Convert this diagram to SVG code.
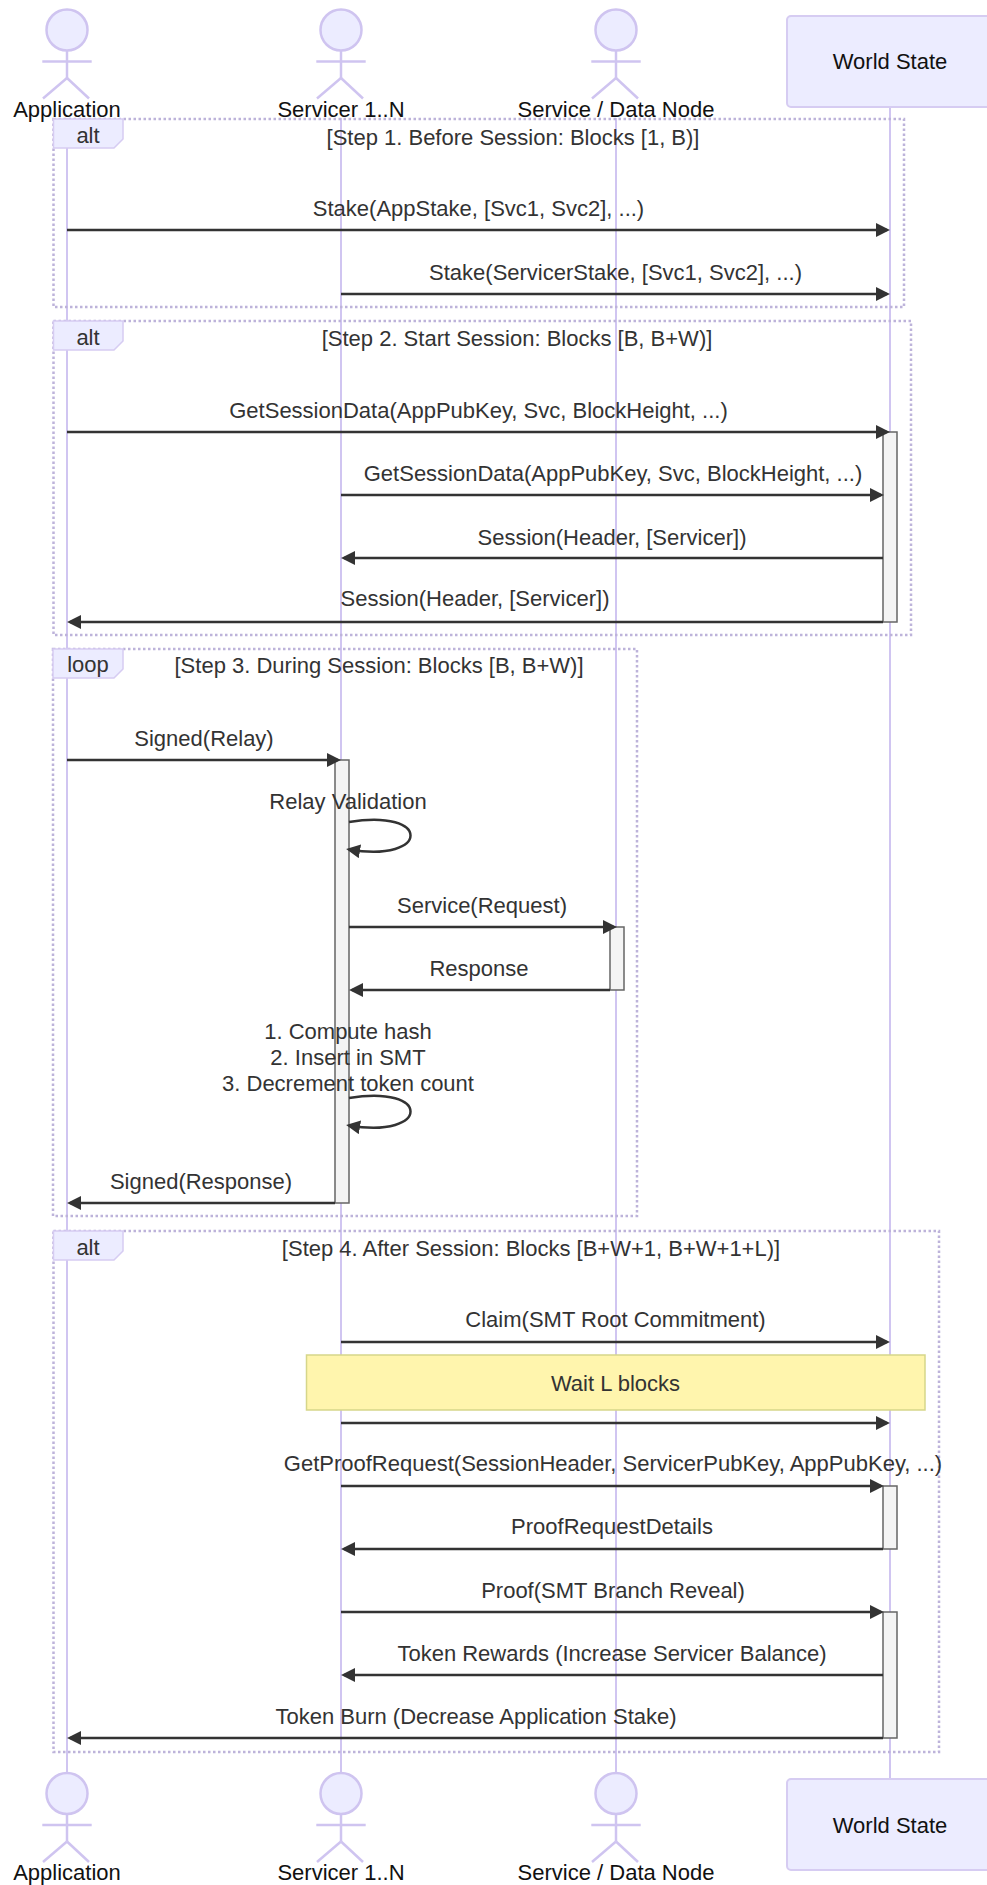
<svg xmlns="http://www.w3.org/2000/svg" width="987" height="1885" viewBox="0 0 987 1885">
<style>
text{font-family:"Liberation Sans",Arial,sans-serif;font-size:22px;fill:#333;text-anchor:middle;dominant-baseline:central}
.actor text,.actorlbl{fill:#111}
.life{stroke:#c1b2ec;stroke-width:1.5}
.man{stroke:#cfc4f0;stroke-width:2.5;fill:none}
.head{fill:#ECECFF;stroke:#cfc4f0;stroke-width:2.5}
.abox{fill:#ECECFF;stroke:#d6ccf2;stroke-width:2}
.frame{fill:none;stroke:#bdb3da;stroke-width:2.5;stroke-dasharray:2.5 2.5}
.lbl{fill:#ECECFF;stroke:#d6ccf2;stroke-width:1.5}
.msg{stroke:#333;stroke-width:2.5;fill:none;marker-end:url(#arr)}
.act{fill:#f4f4f4;stroke:#666;stroke-width:1.5}
.note{fill:#fff5ad;stroke:#d6d68a;stroke-width:1.5}
</style>
<defs>
<marker id="arr" viewBox="0 0 10 10" refX="7.9" refY="5" markerUnits="userSpaceOnUse" markerWidth="14" markerHeight="14" orient="auto">
<path d="M0,0 L10,5 L0,10 z" fill="#333"/>
</marker>
<g id="man">
<circle class="head" cx="0" cy="30" r="20.5"/>
<line class="man" x1="0" y1="50.6" x2="0" y2="78"/>
<line class="man" x1="-24.7" y1="61.5" x2="24.7" y2="61.5"/>
<line class="man" x1="0" y1="78" x2="-24" y2="98.5"/>
<line class="man" x1="0" y1="78" x2="22" y2="98.5"/>
</g>
</defs>
<rect width="987" height="1885" fill="#fff"/>

<g id="lifelines">
<line class="life" x1="67" y1="118" x2="67" y2="1772"/>
<line class="life" x1="341" y1="118" x2="341" y2="1772"/>
<line class="life" x1="616" y1="118" x2="616" y2="1772"/>
<line class="life" x1="890" y1="107" x2="890" y2="1779"/>
</g>

<g id="actor-application-top" class="actor">
<use href="#man" x="67" y="0"/>
<text x="67" y="109">Application</text>
</g>
<g id="actor-servicer-top" class="actor">
<use href="#man" x="341" y="0"/>
<text x="341" y="109">Servicer 1..N</text>
</g>
<g id="actor-service-top" class="actor">
<use href="#man" x="616" y="0"/>
<text x="616" y="109">Service / Data Node</text>
</g>
<g id="actor-worldstate-top" class="actor">
<rect class="abox" x="787" y="16" width="207" height="91" rx="4"/>
<text x="890" y="61">World State</text>
</g>

<g id="frame-step1">
<rect class="frame" x="53.5" y="119" width="850.5" height="188"/>
<polygon class="lbl" points="53.5,119 123,119 123,139 114,148 53.5,148"/>
<text x="88" y="135">alt</text>
<text x="513" y="137">[Step 1. Before Session: Blocks [1, B)]</text>
</g>
<g id="frame-step2">
<rect class="frame" x="53.5" y="321" width="857.5" height="314"/>
<polygon class="lbl" points="53.5,321 123,321 123,341 114,350 53.5,350"/>
<text x="88" y="337">alt</text>
<text x="517" y="338">[Step 2. Start Session: Blocks [B, B+W)]</text>
</g>
<g id="frame-step3">
<rect class="frame" x="53" y="649" width="584" height="567"/>
<polygon class="lbl" points="53,649 123,649 123,669 114,678 53,678"/>
<text x="88" y="664">loop</text>
<text x="379" y="665">[Step 3. During Session: Blocks [B, B+W)]</text>
</g>
<g id="frame-step4">
<rect class="frame" x="53.5" y="1231" width="885.5" height="521"/>
<polygon class="lbl" points="53.5,1231 123,1231 123,1251 114,1260 53.5,1260"/>
<text x="88" y="1247">alt</text>
<text x="531" y="1248">[Step 4. After Session: Blocks [B+W+1, B+W+1+L)]</text>
</g>

<g id="activations">
<rect class="act" x="883" y="432" width="14" height="190"/>
<rect class="act" x="335" y="760" width="14" height="443"/>
<rect class="act" x="610" y="927" width="14" height="63"/>
<rect class="act" x="883" y="1486" width="14" height="63"/>
<rect class="act" x="883" y="1612" width="14" height="126"/>
</g>

<g id="note-wait">
<rect class="note" x="306.5" y="1355" width="618.5" height="55"/>
<text x="615.5" y="1383" style="fill:#333">Wait L blocks</text>
</g>

<g id="connectors">
<line class="msg" x1="67" y1="230" x2="887" y2="230"/>
<text x="478.5" y="208">Stake(AppStake, [Svc1, Svc2], ...)</text>
<line class="msg" x1="341" y1="294" x2="887" y2="294"/>
<text x="615.5" y="272">Stake(ServicerStake, [Svc1, Svc2], ...)</text>

<line class="msg" x1="67" y1="432" x2="887" y2="432"/>
<text x="478.5" y="410">GetSessionData(AppPubKey, Svc, BlockHeight, ...)</text>
<line class="msg" x1="341" y1="495" x2="881" y2="495"/>
<text x="613" y="473">GetSessionData(AppPubKey, Svc, BlockHeight, ...)</text>
<line class="msg" x1="883" y1="558" x2="344" y2="558"/>
<text x="612" y="537">Session(Header, [Servicer])</text>
<line class="msg" x1="883" y1="622" x2="70" y2="622"/>
<text x="475" y="598">Session(Header, [Servicer])</text>

<line class="msg" x1="67" y1="760" x2="338" y2="760"/>
<text x="204" y="738">Signed(Relay)</text>
<text x="348" y="801">Relay Validation</text>
<path class="msg" d="M349,822 C431,808 431,863 349,849.5"/>
<line class="msg" x1="349" y1="927" x2="614" y2="927"/>
<text x="482" y="905">Service(Request)</text>
<line class="msg" x1="610" y1="990" x2="352" y2="990"/>
<text x="479" y="968">Response</text>
<text x="348" y="1031">1. Compute hash</text>
<text x="348" y="1057">2. Insert in SMT</text>
<text x="348" y="1083">3. Decrement token count</text>
<path class="msg" d="M349,1098 C431,1084 431,1139 349,1125.5"/>
<line class="msg" x1="335" y1="1203" x2="70" y2="1203"/>
<text x="201" y="1181">Signed(Response)</text>

<line class="msg" x1="341" y1="1342" x2="887" y2="1342"/>
<text x="615.5" y="1319">Claim(SMT Root Commitment)</text>
<line class="msg" x1="341" y1="1423" x2="887" y2="1423"/>
<line class="msg" x1="341" y1="1486" x2="881" y2="1486"/>
<text x="613" y="1463">GetProofRequest(SessionHeader, ServicerPubKey, AppPubKey, ...)</text>
<line class="msg" x1="883" y1="1549" x2="344" y2="1549"/>
<text x="612" y="1526">ProofRequestDetails</text>
<line class="msg" x1="341" y1="1612" x2="881" y2="1612"/>
<text x="613" y="1590">Proof(SMT Branch Reveal)</text>
<line class="msg" x1="883" y1="1675" x2="344" y2="1675"/>
<text x="612" y="1653">Token Rewards (Increase Servicer Balance)</text>
<line class="msg" x1="883" y1="1738" x2="70" y2="1738"/>
<text x="476" y="1716">Token Burn (Decrease Application Stake)</text>
</g>

<g id="actor-application-bottom" class="actor">
<use href="#man" x="67" y="1763.5"/>
<text x="67" y="1872">Application</text>
</g>
<g id="actor-servicer-bottom" class="actor">
<use href="#man" x="341" y="1763.5"/>
<text x="341" y="1872">Servicer 1..N</text>
</g>
<g id="actor-service-bottom" class="actor">
<use href="#man" x="616" y="1763.5"/>
<text x="616" y="1872">Service / Data Node</text>
</g>
<g id="actor-worldstate-bottom" class="actor">
<rect class="abox" x="787" y="1779" width="207" height="91" rx="4"/>
<text x="890" y="1825">World State</text>
</g>
</svg>
